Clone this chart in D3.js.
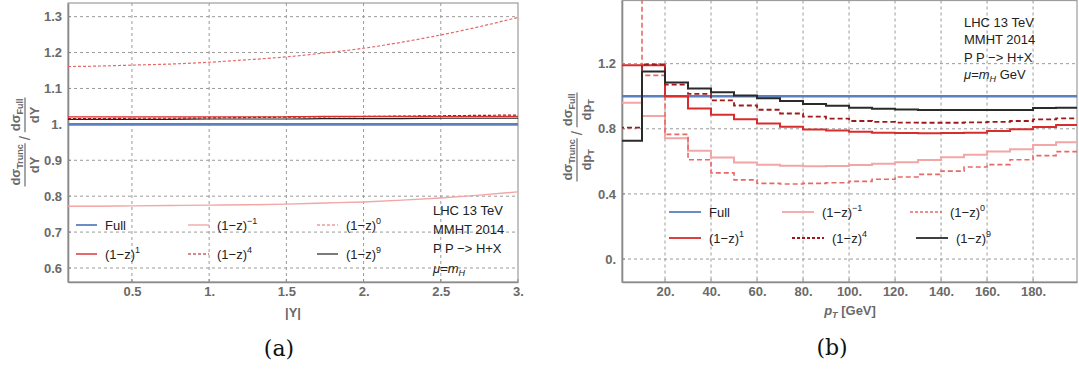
<!DOCTYPE html>
<html><head><meta charset="utf-8">
<script src="https://cdn.jsdelivr.net/npm/d3@7"></script>
<style>
body{margin:0;background:#fff;}
svg{display:block;}
</style></head>
<body>
<svg id="c" width="1079" height="370"></svg>
<script>
// ---------- Data: panel (a) ----------
const yAbs = [0.086, 0.25, 0.5, 0.75, 1, 1.25, 1.5, 1.75, 2, 2.25, 2.5, 2.75, 3];
const aFull = [1,1,1,1,1,1,1,1,1,1,1,1,1];
const aZm1  = [0.772,0.772,0.773,0.774,0.775,0.776,0.778,0.781,0.784,0.789,0.795,0.803,0.812];
const aZ0   = [1.161,1.162,1.165,1.168,1.173,1.180,1.188,1.199,1.212,1.229,1.249,1.272,1.298];
const aZ1   = [1.021,1.021,1.021,1.021,1.021,1.021,1.021,1.022,1.022,1.022,1.022,1.022,1.022];
const aZ4   = [1.016,1.016,1.017,1.017,1.018,1.019,1.020,1.021,1.022,1.023,1.024,1.025,1.026];
const aZ9   = [1.014,1.014,1.014,1.014,1.015,1.015,1.015,1.016,1.016,1.016,1.017,1.017,1.017];
const aXTicks = [0.5,1,1.5,2,2.5,3];
const aXTickLabels = ["0.5","1.","1.5","2.","2.5","3."];
const aYTicks = [0.6,0.7,0.8,0.9,1.0,1.1,1.2,1.3];
const aYTickLabels = ["0.6","0.7","0.8","0.9","1.","1.1","1.2","1.3"];

// ---------- Data: panel (b) ----------
const binEdges = [0,10,20,30,40,50,60,70,80,90,100,110,120,130,140,150,160,170,180,190];
const binEnd = 200;
const bFull = [1,1,1,1,1,1,1,1,1,1,1,1,1,1,1,1,1,1,1,1];
const bZm1 = [0.960,0.878,0.742,0.665,0.624,0.593,0.579,0.573,0.570,0.571,0.577,0.585,0.595,0.608,0.625,0.640,0.660,0.675,0.700,0.718];
const bZ0  = [1.900,1.128,0.766,0.610,0.529,0.486,0.465,0.461,0.465,0.469,0.477,0.490,0.504,0.520,0.540,0.565,0.580,0.610,0.635,0.660];
const bZ1  = [1.190,1.190,1.000,0.925,0.886,0.858,0.832,0.813,0.795,0.789,0.782,0.776,0.774,0.773,0.774,0.776,0.786,0.797,0.811,0.823];
const bZ4  = [0.807,1.195,1.071,1.014,0.974,0.943,0.917,0.894,0.875,0.862,0.848,0.842,0.838,0.837,0.837,0.840,0.843,0.848,0.858,0.864];
const bZ9  = [0.727,1.152,1.085,1.047,1.024,1.004,0.987,0.970,0.953,0.941,0.930,0.923,0.919,0.916,0.915,0.915,0.915,0.916,0.927,0.930];
const bXTicks = [20,40,60,80,100,120,140,160,180];
const bXTickLabels = ["20.","40.","60.","80.","100.","120.","140.","160.","180."];
const bYTicks = [0,0.4,0.8,1.2];
const bYTickLabels = ["0.","0.4","0.8","1.2"];

const legendLabels = [["Full",""],["(1\u2212z)","\u22121"],["(1\u2212z)","0"],["(1\u2212z)","1"],["(1\u2212z)","4"],["(1\u2212z)","9"]];
const annotLines = ["LHC 13 TeV","MMHT 2014","P P \u2212> H+X"];

// ---------- Styles ----------
const styles = [
  {c:"#5b80bd", w:2.6, d:null},
  {c:"#f2a6a6", w:1.4, d:null},
  {c:"#e86868", w:1.2, d:"3,2"},
  {c:"#d92c2c", w:1.4, d:null},
  {c:"#9e1a1a", w:1.2, d:"3,2"},
  {c:"#222222", w:1.2, d:null}
];
const stylesB = [
  {c:"#5b80bd", w:2.4, d:null},
  {c:"#f2a6a6", w:2.0, d:null},
  {c:"#e86868", w:1.6, d:"5,3"},
  {c:"#d92c2c", w:2.0, d:null},
  {c:"#9e1a1a", w:1.8, d:"5,3"},
  {c:"#2a2a2a", w:2.0, d:null}
];

const svg = d3.select("#c");
const tickFont = "Liberation Sans, Arial, sans-serif";
const gridCol = "#9a9a9a";
const axisCol = "#8a8a8a";

function frame(g, x0, x1, y0, y1, clipId){
  svg.append("defs").append("clipPath").attr("id", clipId)
    .append("rect").attr("x",x0).attr("y",y0).attr("width",x1-x0).attr("height",y1-y0);
}

function drawAxes(g, x, y, xt, xtl, yt, ytl, L, R, T, B){
  g.append("g").selectAll("line").data(xt.filter(v=>Math.abs(x(v)-R)>1)).join("line")
    .attr("x1",d=>x(d)).attr("x2",d=>x(d)).attr("y1",T).attr("y2",B)
    .attr("stroke",gridCol).attr("stroke-width",1).attr("stroke-dasharray","3,3");
  g.append("g").selectAll("line").data(yt).join("line")
    .attr("x1",L).attr("x2",R).attr("y1",d=>y(d)).attr("y2",d=>y(d))
    .attr("stroke",gridCol).attr("stroke-width",1).attr("stroke-dasharray","3,3");
  g.append("rect").attr("x",L).attr("y",T).attr("width",R-L).attr("height",B-T)
    .attr("fill","none").attr("stroke","#9c9c9c").attr("stroke-width",1.2);
  const xa = d3.axisBottom(x).tickValues(xt).tickFormat((d,i)=>xtl[i]).tickSize(0).tickPadding(5);
  const ya = d3.axisLeft(y).tickValues(yt).tickFormat((d,i)=>ytl[i]).tickSize(0).tickPadding(6);
  const gx = g.append("g").attr("transform",`translate(0,${B})`).call(xa);
  const gy = g.append("g").attr("transform",`translate(${L},0)`).call(ya);
  [gx,gy].forEach(a=>{
    a.select(".domain").attr("stroke",axisCol).attr("stroke-width",1.6);
    a.selectAll("text").attr("font-family",tickFont).attr("font-weight","bold")
      .attr("font-size",13).attr("fill","#6a6a6a");
  });
  g.append("g").selectAll("line").data(yt).join("line")
    .attr("x1",L).attr("x2",L+3).attr("y1",d=>y(d)).attr("y2",d=>y(d)).attr("stroke",axisCol);
  g.append("g").selectAll("line").data(xt).join("line")
    .attr("x1",d=>x(d)).attr("x2",d=>x(d)).attr("y1",B).attr("y2",B-3).attr("stroke",axisCol);
}

function fracLabel(cx, cy, num, den){
  const g = svg.append("g").attr("transform",`translate(${cx},${cy}) rotate(-90)`)
    .attr("font-family",tickFont).attr("font-weight","bold").attr("fill","#6a6a6a");
  function frac(x0, sub, d){
    const t = g.append("text").attr("x",x0).attr("y",-5).attr("font-size",13);
    t.append("tspan").text("d\u03c3");
    t.append("tspan").attr("font-size",9).attr("dy",3).text(sub);
    const w = t.node().getComputedTextLength();
    const dn = g.append("text").attr("x",x0+w/2).attr("y",14).attr("text-anchor","middle").attr("font-size",13);
    dn.append("tspan").text("d"+d[0]);
    if(d[1]) dn.append("tspan").attr("font-size",9).attr("dy",3).text(d[1]);
    g.append("line").attr("x1",x0-1).attr("x2",x0+w+1).attr("y1",0).attr("y2",0)
      .attr("stroke","#6a6a6a").attr("stroke-width",1.2);
    return w;
  }
  const w1 = frac(0, "Trunc", den);
  g.append("text").attr("x",w1+4).attr("y",5).attr("font-size",15).attr("font-weight","normal").text("/");
  const w2 = frac(w1+13, "Full", den);
  const total = w1+13+w2;
  g.attr("transform",`translate(${cx},${cy+total/2}) rotate(-90)`);
}

function legend(pos, st, lineLen, fs){
  pos.forEach((p,i)=>{
    const s = st[i];
    svg.append("line").attr("x1",p[0]).attr("x2",p[0]+lineLen).attr("y1",p[1]).attr("y2",p[1])
      .attr("stroke",s.c).attr("stroke-width",Math.min(s.w,1.8)).attr("stroke-dasharray",s.d ? "3,2" : null);
    const t = svg.append("text").attr("x",p[0]+lineLen+8).attr("y",p[1]+5)
      .attr("font-family",tickFont).attr("font-size",fs).attr("fill","#222");
    t.append("tspan").text(legendLabels[i][0]);
    if(legendLabels[i][1]) t.append("tspan").attr("font-size",9).attr("dy",-6).text(legendLabels[i][1]);
  });
}

function annot(x, ys, gev){
  annotLines.forEach((s,i)=>{
    svg.append("text").attr("x",x).attr("y",ys[i]+5).attr("font-family",tickFont)
      .attr("font-size",13).attr("fill","#222").text(s);
  });
  const t = svg.append("text").attr("x",x).attr("y",ys[3]+5).attr("font-family",tickFont)
    .attr("font-size",13).attr("fill","#222");
  t.append("tspan").attr("font-style","italic").text("\u03bc");
  t.append("tspan").text("=");
  t.append("tspan").attr("font-style","italic").text("m");
  t.append("tspan").attr("font-style","italic").attr("font-size",9).attr("dy",3).text("H");
  if(gev) t.append("tspan").attr("dy",-3).text(" GeV");
}

// ---------- Panel (a) ----------
{
  const L=68, R=518, T=3, B=282;
  const x = d3.scaleLinear().domain([0.086,3]).range([L,R]);
  const y = d3.scaleLinear().domain([0.561,1.338]).range([B,T]);
  const g = svg.append("g");
  frame(g,L,R,T,B,"clipA");
  drawAxes(g,x,y,aXTicks,aXTickLabels,aYTicks,aYTickLabels,L,R,T,B);
  const series = [aFull,aZm1,aZ0,aZ1,aZ4,aZ9];
  const line = d3.line().x((d,i)=>x(yAbs[i])).y(d=>y(d)).curve(d3.curveMonotoneX);
  const order = [1,2,0,5,4,3];
  const pg = g.append("g").attr("clip-path","url(#clipA)");
  order.forEach(k=>{
    const s = styles[k];
    pg.append("path").attr("d",line(series[k])).attr("fill","none")
      .attr("stroke",s.c).attr("stroke-width",s.w).attr("stroke-dasharray",s.d);
  });
  legend([[76,225],[188,225],[317,225],[76,254],[188,254],[317,254]], styles, 21, 13);
  annot(433,[210,229,248,268],false);
  svg.append("text").attr("x",293).attr("y",317).attr("text-anchor","middle")
    .attr("font-family",tickFont).attr("font-weight","bold").attr("font-size",13).attr("fill","#6a6a6a").text("|Y|");
  fracLabel(25,142,"Trunc",["Y",""]);
  svg.append("text").attr("x",279).attr("y",356).attr("text-anchor","middle")
    .attr("font-family","DejaVu Serif, serif").attr("font-size",22).attr("fill","#111").text("(a)");
}

// ---------- Panel (b) ----------
{
  const L=622, R=1077, T=0.5, B=282;
  const x = d3.scaleLinear().domain([1.3,199.1]).range([L,R]);
  const y = d3.scaleLinear().domain([-0.141,1.588]).range([B,T]);
  const g = svg.append("g");
  frame(g,L,R,T,B,"clipB");
  drawAxes(g,x,y,bXTicks,bXTickLabels,bYTicks,bYTickLabels,L,R,T,B);
  const series = [bFull,bZm1,bZ0,bZ1,bZ4,bZ9];
  const pts = s => binEdges.map((e,i)=>[e,s[i]]).concat([[binEnd,s[s.length-1]]]);
  const line = d3.line().x(d=>x(d[0])).y(d=>y(d[1])).curve(d3.curveStepAfter);
  const order = [1,2,0,3,4,5];
  const pg = g.append("g").attr("clip-path","url(#clipB)");
  order.forEach(k=>{
    const s = stylesB[k];
    pg.append("path").attr("d",line(pts(series[k]))).attr("fill","none")
      .attr("stroke",s.c).attr("stroke-width",s.w).attr("stroke-dasharray",s.d);
  });
  legend([[669,212],[782,212],[910,212],[669,238],[792,238],[916,238]], stylesB, 32, 13);
  annot(964,[22,39,57,74],true);
  const t = svg.append("text").attr("x",850).attr("y",315).attr("text-anchor","middle")
    .attr("font-family",tickFont).attr("font-weight","bold").attr("font-size",13).attr("fill","#6a6a6a");
  t.append("tspan").attr("font-style","italic").text("p");
  t.append("tspan").attr("font-style","italic").attr("font-size",9).attr("dy",3).text("T");
  t.append("tspan").attr("dy",-3).text(" [GeV]");
  fracLabel(577,137,"Trunc",["p","T"]);
  svg.append("text").attr("x",832).attr("y",355).attr("text-anchor","middle")
    .attr("font-family","DejaVu Serif, serif").attr("font-size",22).attr("fill","#111").text("(b)");
}
</script>
</body></html>
